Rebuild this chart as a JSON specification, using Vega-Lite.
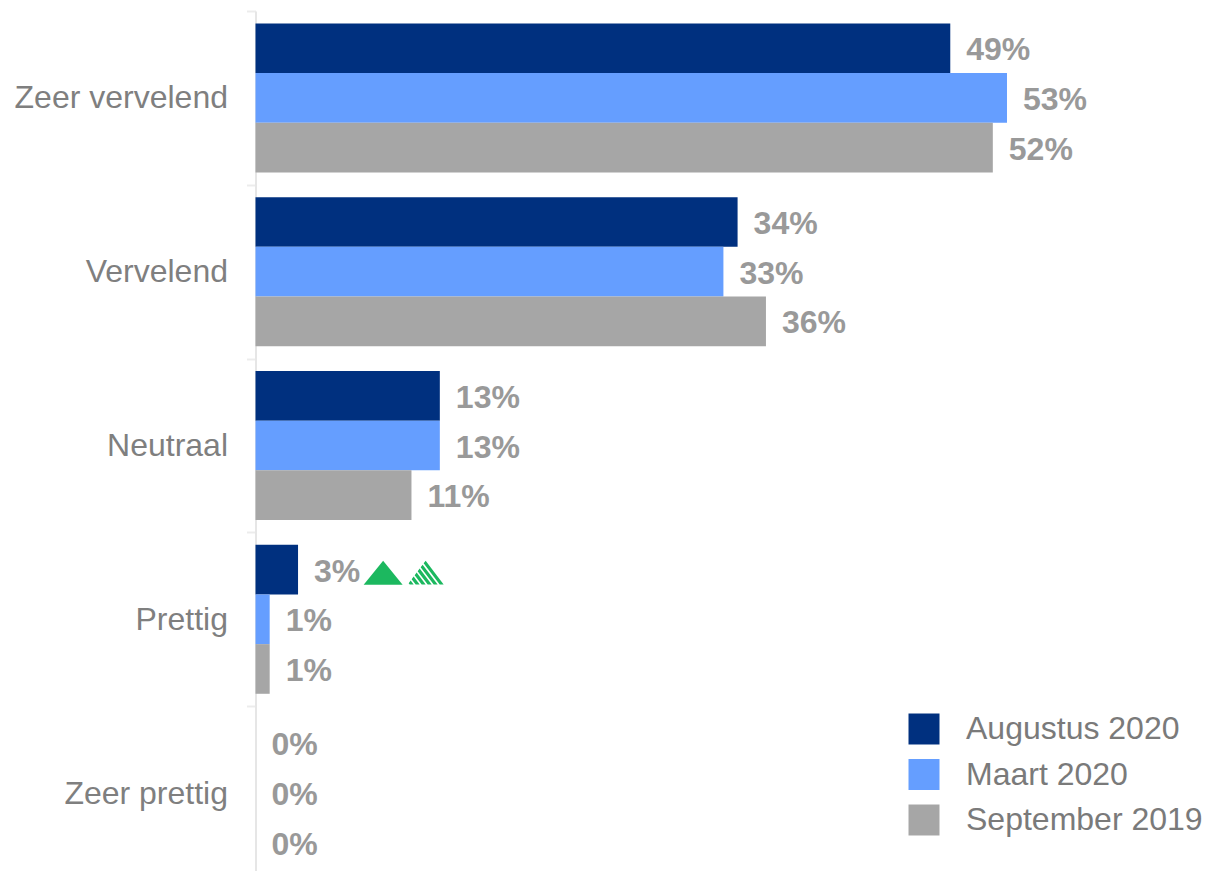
{
  "$schema": "https://vega.github.io/schema/vega-lite/v6.json",
  "width": 950,
  "height": 869,
  "autosize": "none",
  "padding": {"left": 255.5, "top": 11, "right": 0, "bottom": 0},
  "background": "white",
  "config": {"view": {"stroke": null}, "font": "Liberation Sans"},
  "datasets": {
    "scores": [
      {"categorie": "Zeer vervelend", "periode": "Augustus 2020", "waarde": 0.49},
      {"categorie": "Zeer vervelend", "periode": "Maart 2020", "waarde": 0.53},
      {"categorie": "Zeer vervelend", "periode": "September 2019", "waarde": 0.52},
      {"categorie": "Vervelend", "periode": "Augustus 2020", "waarde": 0.34},
      {"categorie": "Vervelend", "periode": "Maart 2020", "waarde": 0.33},
      {"categorie": "Vervelend", "periode": "September 2019", "waarde": 0.36},
      {"categorie": "Neutraal", "periode": "Augustus 2020", "waarde": 0.13},
      {"categorie": "Neutraal", "periode": "Maart 2020", "waarde": 0.13},
      {"categorie": "Neutraal", "periode": "September 2019", "waarde": 0.11},
      {"categorie": "Prettig", "periode": "Augustus 2020", "waarde": 0.03},
      {"categorie": "Prettig", "periode": "Maart 2020", "waarde": 0.01},
      {"categorie": "Prettig", "periode": "September 2019", "waarde": 0.01},
      {"categorie": "Zeer prettig", "periode": "Augustus 2020", "waarde": 0},
      {"categorie": "Zeer prettig", "periode": "Maart 2020", "waarde": 0},
      {"categorie": "Zeer prettig", "periode": "September 2019", "waarde": 0}
    ],
    "solid": [{"categorie": "Prettig", "periode": "Augustus 2020", "positie": 0.09}],
    "hatched": [{"categorie": "Prettig", "periode": "Augustus 2020", "positie": 0.12}]
  },
  "encoding": {
    "y": {
      "field": "categorie",
      "type": "nominal",
      "sort": ["Zeer vervelend", "Vervelend", "Neutraal", "Prettig", "Zeer prettig"],
      "scale": {"paddingInner": 0, "paddingOuter": 0},
      "axis": {
        "title": null,
        "tickBand": "extent",
        "tickSize": 9,
        "tickWidth": 2,
        "tickColor": "#ececec",
        "domainColor": "#e6e6e6",
        "domainWidth": 2,
        "labelFontSize": 32,
        "labelColor": "#7f7f7f",
        "labelPadding": 19,
        "grid": false,
        "labelLimit": 300
      }
    },
    "yOffset": {
      "field": "periode",
      "type": "nominal",
      "sort": ["Augustus 2020", "Maart 2020", "September 2019"],
      "scale": {"paddingInner": 0, "paddingOuter": 0.25}
    }
  },
  "layer": [
    {
      "data": {"name": "scores"},
      "mark": {"type": "bar"},
      "encoding": {
        "x": {"field": "waarde", "type": "quantitative", "scale": {"domain": [0, 0.67], "nice": false, "zero": true}, "axis": null},
        "color": {
          "field": "periode",
          "type": "nominal",
          "sort": ["Augustus 2020", "Maart 2020", "September 2019"],
          "scale": {"domain": ["Augustus 2020", "Maart 2020", "September 2019"], "range": ["#00307f", "#659eff", "#a6a6a6"]},
          "legend": {
            "title": null,
            "orient": "none",
            "legendX": 652.5,
            "legendY": 702,
            "padding": 0,
            "symbolType": "square",
            "symbolSize": 961,
            "symbolStrokeWidth": 0,
            "labelFontSize": 32,
            "labelColor": "#7a7a7a",
            "labelOffset": 26,
            "rowPadding": 13.5,
            "labelLimit": 300
          }
        }
      }
    },
    {
      "data": {"name": "scores"},
      "mark": {"type": "text", "align": "left", "baseline": "middle", "dx": 16, "dy": 2, "fontSize": 32, "fontWeight": "bold", "color": "#999999"},
      "encoding": {
        "x": {"field": "waarde", "type": "quantitative"},
        "text": {"field": "waarde", "type": "quantitative", "format": ".0%"}
      }
    },
    {
      "data": {"name": "solid"},
      "mark": {"type": "point", "filled": true, "color": "#1cb85f", "opacity": 1, "size": 1521, "shape": "M-1,0.77L1,0.77L0,-0.46Z"},
      "encoding": {"x": {"field": "positie", "type": "quantitative"}}
    },
    {
      "data": {"name": "hatched"},
      "mark": {"type": "point", "filled": true, "color": "#1cb85f", "opacity": 1, "size": 1296, "shape": "M0,-0.5L-0.11,-0.354L0.78,0.83L1,0.83ZM-0.167,-0.278L-0.277,-0.132L0.446,0.83L0.666,0.83ZM-0.333,-0.057L-0.443,0.089L0.114,0.83L0.334,0.83ZM-0.5,0.165L-0.61,0.311L-0.22,0.83L0,0.83ZM-0.667,0.387L-0.777,0.533L-0.554,0.83L-0.334,0.83ZM-0.833,0.608L-0.943,0.754L-0.886,0.83L-0.666,0.83Z"},
      "encoding": {"x": {"field": "positie", "type": "quantitative"}}
    }
  ]
}
